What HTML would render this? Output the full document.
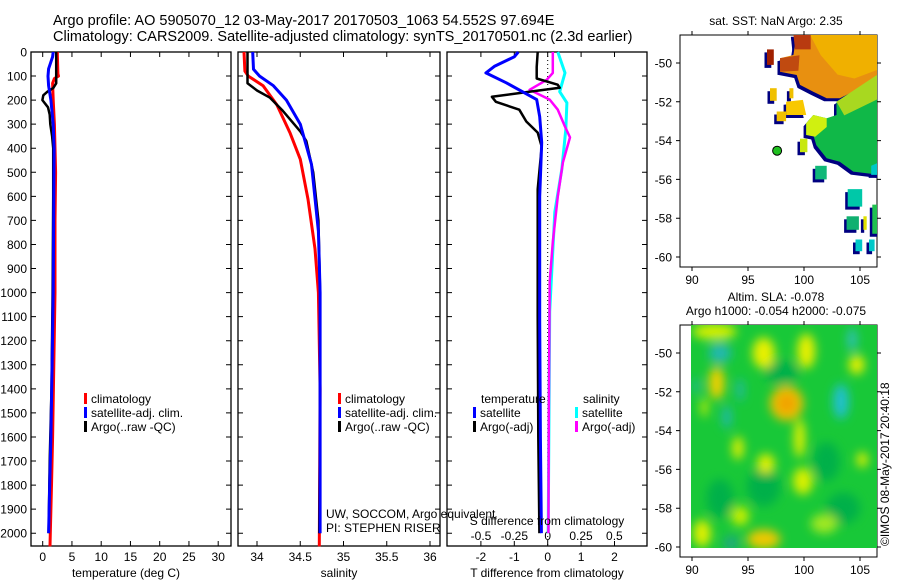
<!DOCTYPE html>
<html><head><meta charset="utf-8">
<style>
body{margin:0;background:#fff;}
svg{display:block;font-family:"Liberation Sans",sans-serif;}
</style></head>
<body>
<svg id="fig" width="900" height="580" viewBox="0 0 900 580" xmlns="http://www.w3.org/2000/svg">
<defs>
<filter id="blur3" x="-30%" y="-30%" width="160%" height="160%"><feGaussianBlur stdDeviation="5"/></filter>
<clipPath id="slaClip"><rect x="691" y="325" width="186" height="223"/></clipPath>
<clipPath id="sstClip"><rect x="680" y="35" width="197" height="232"/></clipPath>
</defs>
<text x="53" y="25" font-size="14.5">Argo profile: AO 5905070_12 03-May-2017 20170503_1063 54.552S 97.694E</text>
<text x="53" y="41" font-size="14.5">Climatology: CARS2009. Satellite-adjusted climatology: synTS_20170501.nc (2.3d earlier)</text>
<g id="p1"></g>
<g id="p2"></g>
<g id="p3"></g>
<g id="m1"></g>
<g id="m2"></g>
</svg>
<script>
const depthTicks=[0,100,200,300,400,500,600,700,800,900,1000,1100,1200,1300,1400,1500,1600,1700,1800,1900,2000];
const tClimDepth=[0,5,90,100,110,130,200,300,400,500,700,1000,1300,1600,1800,2000,2055];
const tClimVal=[2.5,2.5,2.6,2.7,2.0,1.7,1.8,2.0,2.1,2.2,2.1,2.1,1.9,1.7,1.5,1.3,1.25];
const tSatDepth=[0,20,70,100,140,200,300,400,600,1000,1300,1600,1800,2000];
const tSatVal=[1.8,1.7,1.0,0.9,1.0,1.4,1.8,1.95,1.9,1.8,1.6,1.4,1.2,1.0];
const tArgoDepth=[0,130,150,165,180,200,230,260,300,350,400,600,1000,1400,1700,2000];
const tArgoVal=[2.3,2.3,1.8,0.8,0.1,-0.05,0.9,1.2,1.3,1.6,1.8,1.8,1.7,1.5,1.2,1.0];
const sClimDepth=[0,80,100,140,220,335,446,612,818,1000,1400,2055];
const sClimVal=[33.85,33.86,33.9,34.07,34.23,34.38,34.5,34.59,34.67,34.71,34.73,34.72];
const sSatDepth=[0,72,100,140,200,300,467,745,1000,1500,2000];
const sSatVal=[33.95,33.96,34.03,34.19,34.34,34.5,34.63,34.71,34.73,34.73,34.73];
const sArgoDepth=[0,130,160,190,245,330,370,500,700,1000,1500,2000];
const sArgoVal=[33.89,33.89,34.0,34.15,34.3,34.5,34.57,34.65,34.71,34.73,34.73,34.72];
const dTSatDepth=[0,20,60,87,128,198,269,376,600,1120,1600,2000];
const dTSatVal=[-0.88,-1.0,-1.6,-1.85,-1.24,-0.33,-0.24,-0.18,-0.24,-0.24,-0.22,-0.19];
const dTArgoDepth=[0,62,110,136,149,165,186,207,240,289,335,393,570,1100,1600,2000];
const dTArgoVal=[-0.3,-0.33,-0.33,0.3,0.36,-0.55,-1.67,-1.55,-0.85,-0.64,-0.3,-0.18,-0.3,-0.3,-0.28,-0.25];
const dSArgoDepth=[0,87,116,157,198,240,310,355,459,600,790,955,1500,2000];
const dSArgoVal=[0.038,0.038,-0.008,-0.136,0.015,0.076,0.13,0.167,0.114,0.076,0.038,0.015,0.008,0.005];
const dSSatDepth=[0,87,165,211,322,488,665,1079,1500,2000];
const dSSatVal=[0.076,0.13,0.09,0.144,0.136,0.106,0.053,0.015,0.01,0.004];
const tTicks=[0,5,10,15,20,25,30];
const sTicks=[34,34.5,35,35.5,36];
const dTTicks=[-2,-1,0,1,2];
const dSTicks=[-0.5,-0.25,0,0.25,0.5];
const lonTicks=[90,95,100,105];
const latTicks=[-50,-52,-54,-56,-58,-60];
// SST map polygons: lon/lat vertex lists and colours
const sstPolys=[
 [[99.05,-48.5],[106.8,-48.5],[106.8,-50.45],[105.6,-51.13],[103.2,-51.82],[102.03,-51.82],[100.83,-51.48],[99.64,-51.13],[99.35,-50.62],[97.86,-50.45],[97.86,-49.76],[99.05,-49.59],[99.2,-49.07]],
 [[100.5,-48.5],[106.8,-48.5],[106.8,-50.3],[104.5,-50.8],[103.0,-50.6],[101.5,-49.6]],
 [[99.05,-48.5],[100.6,-48.5],[100.6,-49.3],[99.2,-49.3]],
 [[97.86,-49.75],[99.6,-49.6],[99.5,-50.4],[97.86,-50.45]],
 [[96.7,-49.3],[97.3,-49.3],[97.3,-50.1],[96.7,-50.1]],
 [[102.9,-51.99],[106.8,-50.6],[106.8,-55.77],[104.4,-55.6],[103.2,-55.09],[102.03,-54.91],[101.1,-54.23],[100.83,-53.71],[100.2,-53.71],[100.2,-53.11],[100.83,-52.68],[102.03,-52.85],[102.9,-52.68]],
 [[102.9,-52.0],[106.8,-50.5],[106.8,-51.8],[103.6,-52.7]],
 [[100.2,-53.11],[100.83,-52.68],[102.03,-52.85],[102.03,-53.3],[101.0,-53.8],[100.2,-53.71]],
 [[106.0,-55.3],[106.8,-55.1],[106.8,-55.77],[106.0,-55.77]],
 [[96.96,-51.3],[97.56,-51.3],[97.56,-51.95],[96.96,-51.95]],
 [[98.7,-51.3],[99.05,-51.3],[99.05,-51.82],[98.7,-51.82]],
 [[98.4,-52.0],[99.9,-51.9],[100.2,-52.68],[98.4,-52.68]],
 [[97.56,-52.5],[98.4,-52.5],[98.4,-53.0],[97.56,-53.0]],
 [[99.64,-53.9],[100.3,-53.9],[100.3,-54.6],[99.64,-54.6]],
 [[101.0,-55.3],[102.03,-55.3],[102.03,-56.0],[101.0,-56.0]],
 [[103.9,-56.5],[105.2,-56.5],[105.2,-57.4],[103.9,-57.4]],
 [[103.8,-57.9],[104.9,-57.9],[104.9,-58.6],[103.8,-58.6]],
 [[105.3,-57.9],[105.6,-57.9],[105.6,-58.6],[105.3,-58.6]],
 [[106.1,-57.3],[106.8,-57.3],[106.8,-58.8],[106.1,-58.8]],
 [[104.6,-59.1],[105.2,-59.1],[105.2,-59.7],[104.6,-59.7]],
 [[105.8,-59.1],[106.3,-59.1],[106.3,-59.7],[105.8,-59.7]]
];
const sstColors=['#e89010','#f0b000','#b83a10','#c04a10','#a02000','#10b848','#a8d820','#d0f010','#00c8c8','#f0c000','#f0c000','#f8c800','#f0c000','#c8e810','#10b878','#00c8a8','#10b070','#e0e000','#20c050','#00c8c8','#00c8c8'];
// SLA blobs: lon, lat, rx(deg), ry(deg), colour
const slaBlobs=[
 [96.4,-56.9,1.5,1.0,'#00b048'],[102,-55.6,1.2,1.0,'#00b048'],[92.5,-57.5,1.2,1.0,'#00b048'],[103.5,-58,1.5,0.8,'#00b048'],[98,-51,1.5,0.6,'#00b048'],
 [92.2,-51.55,0.7,0.85,'#f0d000'],[98.45,-52.6,1.5,0.9,'#f0c000'],[98.45,-52.6,0.8,0.5,'#f0a000'],[96.4,-50.0,1.0,0.8,'#e8f000'],
 [100.2,-49.9,0.8,0.9,'#e8f000'],[104.7,-50.6,0.7,0.5,'#e8f000'],[92,-48.9,2.0,0.4,'#d8f000'],[99.6,-54.4,0.5,1.0,'#e0f000'],
 [94.1,-54.9,0.5,0.6,'#e0f000'],[96.6,-55.7,0.8,0.5,'#e0f000'],[99.9,-56.6,0.9,0.7,'#d8f000'],[105.2,-55.5,0.5,0.4,'#e0f000'],
 [96.4,-59.6,1.5,0.5,'#f0c800'],[90.9,-59.3,0.8,0.7,'#e0f000'],[94.3,-58.4,0.8,0.5,'#c8f000'],[101.8,-58.8,1.2,0.5,'#a0e820'],
 [91.1,-52.8,0.3,0.5,'#d0f000'],
 [103.3,-52.5,0.7,0.9,'#20c0d0'],[92.5,-50.0,1.0,0.5,'#20b8b0'],[94.3,-51.9,0.3,0.6,'#20b8b0'],[93.1,-53.3,0.4,0.6,'#20b8b0'],
 [104.3,-49.3,0.4,0.6,'#30c0c0'],[90.4,-51.7,0.3,0.4,'#20b8a0'],[93.5,-59.8,0.7,0.4,'#20a880']
];

const NS='http://www.w3.org/2000/svg';
const FS=12;
function mk(parent,tag,attrs,txt){const e=document.createElementNS(NS,tag);for(const k in attrs)e.setAttribute(k,attrs[k]);if(txt!==undefined)e.textContent=txt;parent.appendChild(e);return e;}
const yD=d=>52+d*0.2406;
const xT=t=>42.7+t*5.85;
const xS=s=>257+(s-34)*86.5;
const xDT=v=>547.7+v*33.4;
const xDS=v=>547.7+v*133.4;

function frame(g,x0,x1){
  const r=mk(g,'rect',{x:x0,y:52,width:x1-x0,height:494,fill:'none',stroke:'#000','stroke-width':1.3});
  
  
  depthTicks.forEach(d=>{
    const y=yD(d);
    const a=mk(g,'path',{d:`M${x0} ${y}h5M${x1} ${y}h-5`,stroke:'#000','stroke-width':1});
    
    
  });
}
function xticks(g,vals,fx,labelY,tickTop){
  vals.forEach(v=>{
    const x=fx(v);
    const t=mk(g,'path',{d:`M${x} 546v-5`+(tickTop?`M${x} 52v5`:''),stroke:'#000'});
    
    
    const l=mk(g,'text',{x:x,y:labelY,'font-size':FS,'text-anchor':'middle'},String(v));
    
    
  });
}
function line(g,depths,vals,fx,color,w,name){
  const pts=depths.map((d,i)=>fx(vals[i]).toFixed(1)+','+yD(d).toFixed(1)).join(' ');
  const p=mk(g,'polyline',{points:pts,fill:'none',stroke:color,'stroke-width':w,'stroke-linejoin':'round'});
  
  
}
function legend(g,x,y,color,txt){
  const r=mk(g,'rect',{x:x,y:y-10,width:3,height:11,fill:color});
  
  
  const t=mk(g,'text',{x:x+7,y:y,'font-size':FS},txt);
  
  
}

const p1=document.getElementById('p1');
frame(p1,31,231);
depthTicks.forEach(d=>{const l=mk(p1,'text',{x:27,y:yD(d)+4.5,'font-size':FS,'text-anchor':'end'},String(d));

});
xticks(p1,tTicks,xT,561,true);
const xl1=mk(p1,'text',{x:126,y:577,'font-size':FS,'text-anchor':'middle'},'temperature (deg C)');


line(p1,tClimDepth,tClimVal,xT,'#f00',3,'temp-climatology-line');
line(p1,tArgoDepth,tArgoVal,xT,'#000',2.5,'temp-argo-line');
line(p1,tSatDepth,tSatVal,xT,'#00f',3,'temp-satellite-line');
legend(p1,84,403,'#f00','climatology');
legend(p1,84,417,'#00f','satellite-adj. clim.');
legend(p1,84,431,'#000','Argo(..raw -QC)');

const p2=document.getElementById('p2');
frame(p2,238,440);
xticks(p2,sTicks,xS,561,true);
const xl2=mk(p2,'text',{x:339,y:577,'font-size':FS,'text-anchor':'middle'},'salinity');


line(p2,sClimDepth,sClimVal,xS,'#f00',3,'sal-climatology-line');
line(p2,sArgoDepth,sArgoVal,xS,'#000',2.5,'sal-argo-line');
line(p2,sSatDepth,sSatVal,xS,'#00f',3,'sal-satellite-line');
legend(p2,338,403,'#f00','climatology');
legend(p2,338,417,'#00f','satellite-adj. clim.');
legend(p2,338,431,'#000','Argo(..raw -QC)');
const c1=mk(p2,'text',{x:326,y:518,'font-size':FS},'UW, SOCCOM, Argo equivalent');


const c2=mk(p2,'text',{x:326,y:532,'font-size':FS},'PI: STEPHEN RISER');



const p3=document.getElementById('p3');
frame(p3,447,647);
xticks(p3,dTTicks,xDT,561,true);
dSTicks.forEach(v=>{const l=mk(p3,'text',{x:xDS(v),y:540,'font-size':FS,'text-anchor':'middle'},String(v));

});
const zl=mk(p3,'line',{x1:xDT(0),y1:52,x2:xDT(0),y2:546,stroke:'#000','stroke-dasharray':'1,3'});


line(p3,dSSatDepth,dSSatVal,xDS,'#0ff',3,'dsal-satellite-line');
line(p3,dSArgoDepth,dSArgoVal,xDS,'#f0f',2.5,'dsal-argo-line');
line(p3,dTArgoDepth,dTArgoVal,xDT,'#000',2.5,'dtemp-argo-line');
line(p3,dTSatDepth,dTSatVal,xDT,'#00f',3,'dtemp-satellite-line');
const st=mk(p3,'text',{x:547,y:525,'font-size':FS,'text-anchor':'middle'},'S difference from climatology');


const tt=mk(p3,'text',{x:547,y:577,'font-size':FS,'text-anchor':'middle'},'T difference from climatology');


const lh1=mk(p3,'text',{x:481,y:403,'font-size':FS},'temperature');


const lh2=mk(p3,'text',{x:583,y:403,'font-size':FS},'salinity');


legend(p3,473,417,'#00f','satellite');
legend(p3,473,431,'#000','Argo(-adj)');
legend(p3,575,417,'#0ff','satellite');
legend(p3,575,431,'#f0f','Argo(-adj)');

const xLon=(lon)=>692+(lon-90)*11.2;
function mapAxes(g,top,bottom,lat50y){
  const r=mk(g,'rect',{x:680,y:top,width:197,height:bottom-top,fill:'none',stroke:'#000'});
  
  
  const yL=lat=>lat50y+(-50-lat)*19.4;
  latTicks.forEach(l=>{const y=yL(l);
    const t=mk(g,'path',{d:`M680 ${y}h-4M877 ${y}h4`,stroke:'#000'});
    
    
    const tx=mk(g,'text',{x:672,y:y+4.5,'font-size':FS,'text-anchor':'end'},String(l));
    
    });
  lonTicks.forEach(l=>{const x=xLon(l);
    const t=mk(g,'path',{d:`M${x} ${bottom}v4M${x} ${top}v-4`,stroke:'#000'});
    
    
    const tx=mk(g,'text',{x:x,y:bottom+17,'font-size':FS,'text-anchor':'middle'},String(l));
    
    });
  return yL;
}
const m1=document.getElementById('m1');
const yL1=mapAxes(m1,35,267,63);
const sg=mk(m1,'g',{'clip-path':'url(#sstClip)'});
function polyPts(poly,dx,dy){return poly.map(p=>(xLon(p[0])+dx).toFixed(1)+','+(yL1(p[1])+dy).toFixed(1)).join(' ');}
sstPolys.forEach(p=>{
  const s=mk(sg,'polygon',{points:polyPts(p,-2.5,3),fill:'#000080'});
  
  
});
sstPolys.forEach((p,i)=>{
  const s=mk(sg,'polygon',{points:polyPts(p,0,0),fill:sstColors[i]});
  
  
});
const argoLon=97.6,argoLat=-54.52;
const am=mk(m1,'circle',{cx:xLon(argoLon),cy:yL1(argoLat),r:4.5,fill:'#20c020',stroke:'#000'});


const mt1=mk(m1,'text',{x:776,y:25,'font-size':FS,'text-anchor':'middle'},'sat. SST: NaN Argo: 2.35');



const m2=document.getElementById('m2');
const yL2=mapAxes(m2,325,557,353);
const cg=mk(m2,'g',{'clip-path':'url(#slaClip)'});
const bg=mk(cg,'rect',{x:691,y:325,width:186,height:223,fill:'#18c838'});


const bl=mk(cg,'g',{filter:'url(#blur3)'});
slaBlobs.forEach(b=>{
  const e=mk(bl,'ellipse',{cx:xLon(b[0]),cy:yL2(b[1]),rx:b[2]*11.2,ry:b[3]*19.4,fill:b[4]});
  
  
});
const mt2=mk(m2,'text',{x:776,y:301,'font-size':FS,'text-anchor':'middle'},'Altim. SLA: -0.078');


const mt3=mk(m2,'text',{x:776,y:315,'font-size':FS,'text-anchor':'middle'},'Argo h1000: -0.054 h2000: -0.075');


const cr=mk(m2,'text',{x:0,y:0,'font-size':FS,transform:'translate(889,546) rotate(-90)'},'©IMOS 08-May-2017 20:40:18');


</script>
</body></html>
